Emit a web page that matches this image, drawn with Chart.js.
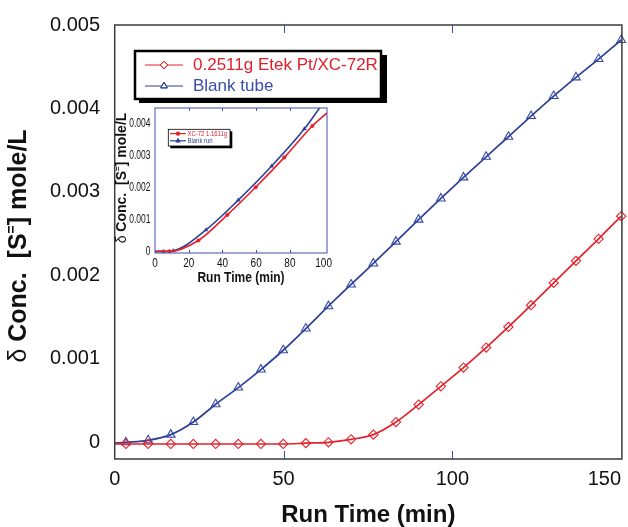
<!DOCTYPE html>
<html>
<head>
<meta charset="utf-8">
<script src="https://cdn.jsdelivr.net/npm/chart.js@4.4.1/dist/chart.umd.min.js"></script>
<style>
    html, body { margin: 0; padding: 0; background: #fff; }
    #wrap { position: relative; width: 628px; height: 527px; }
    #mainChart { position: absolute; left: 0; top: 0; }
    #insetChart { position: absolute; left: 110px; top: 100px; }
</style>
</head>
<body>
<div id="wrap">
    <canvas id="mainChart" width="628" height="527"></canvas>
    <canvas id="insetChart" width="235" height="195"></canvas>
</div>
<script>
// ---- main chart data ----
const runTime = [0, 3.3, 9.9, 16.6, 23.3, 29.9, 36.6, 43.3, 49.9, 56.6, 63.3, 70.0, 76.6,
    83.3, 90.0, 96.6, 103.3, 110.0, 116.6, 123.3, 130.0, 136.6, 143.3, 150.0];
const etekConc = [-0.00002, -0.00002, -0.00002, -0.00002, -0.00002, -0.00002, -0.00002, -0.00002, -0.00002,
    -0.00001, 0, 0.000036, 0.000092, 0.000243, 0.000452, 0.000671, 0.000896, 0.001135,
    0.001382, 0.001643, 0.00191, 0.002174, 0.002438, 0.00271];
const blankConc = [-0.00001, 0, 0.000024, 0.000092, 0.000243, 0.000456, 0.000656, 0.000872, 0.001103,
    0.001363, 0.001631, 0.001891, 0.002143, 0.002404, 0.002668, 0.002922, 0.003174, 0.003421,
    0.003661, 0.003909, 0.004149, 0.004373, 0.004592, 0.00482];
const seriesNames = ['0.2511g Etek Pt/XC-72R', 'Blank tube'];
const xTicks = [0, 50, 100, 150];
const yTicks = [0, 0.001, 0.002, 0.003, 0.004, 0.005];
const yTickLabels = ['0', '0.001', '0.002', '0.003', '0.004', '0.005'];

// ---- inset chart data ----
const insetRedTime = [0, 8.5, 25.7, 42.9, 59.7, 76.7, 93.3, 102];
const insetRedConc = [0, 0, 0.00034, 0.00114, 0.002, 0.00293, 0.00391, 0.00432];
const insetBlueTime = [0, 5, 10.9, 30.2, 49.4, 69.2, 88.6, 98];
const insetBlueConc = [0, 0, 0.00002, 0.00067, 0.0016, 0.00266, 0.00382, 0.0045];
const insetNames = ['XC-72 1.1611g', 'Blank run'];
const insetXTicks = [0, 20, 40, 60, 80, 100];
const insetYTicks = [0, 0.001, 0.002, 0.003, 0.004];
const insetYTickLabels = ['0', '0.001', '0.002', '0.003', '0.004'];

const RED = '#e3222b';
const BLUE = '#2e3f96';
const FONT = '"Liberation Sans", Arial, sans-serif';

function toPoints(xs, ys) {
    return xs.map((x, i) => ({ x: x, y: ys[i] }));
}

// text with optional stretch
function drawText(ctx, str, x, y, font, color, align, sx, sy) {
    ctx.save();
    ctx.translate(x, y);
    ctx.scale(sx || 1, sy || 1);
    ctx.font = font;
    ctx.fillStyle = color;
    ctx.textAlign = align || 'center';
    ctx.textBaseline = 'middle';
    ctx.fillText(str, 0, 0);
    ctx.restore();
}

// rotated "δ Conc. [S=] mole/L" with superscript
function drawConcTitle(ctx, cx, cy, size) {
    const segs = [
        { t: 'δ ', f: size + 'px ' + FONT, dy: 0 },
        { t: 'Conc.  [S', f: 'bold ' + size + 'px ' + FONT, dy: 0 },
        { t: '=', f: 'bold ' + Math.round(size * 0.55) + 'px ' + FONT, dy: -size * 0.28 },
        { t: '] mole/L', f: 'bold ' + size + 'px ' + FONT, dy: 0 }
    ];
    ctx.save();
    ctx.translate(cx, cy);
    ctx.rotate(-Math.PI / 2);
    ctx.textBaseline = 'middle';
    ctx.textAlign = 'left';
    ctx.fillStyle = '#111';
    let total = 0;
    segs.forEach(s => { ctx.font = s.f; s.w = ctx.measureText(s.t).width; total += s.w; });
    let xx = -total / 2;
    segs.forEach(s => { ctx.font = s.f; ctx.fillText(s.t, xx, s.dy); xx += s.w; });
    ctx.restore();
}

const mainDecor = {
    id: 'mainDecor',
    afterDraw(chart) {
        const { ctx, chartArea: a, scales: { x, y } } = chart;
        ctx.save();
        // frame
        ctx.strokeStyle = '#3d3d3d';
        ctx.lineWidth = 1.5;
        ctx.strokeRect(a.left, a.top, a.right - a.left, a.bottom - a.top);
        // inward ticks
        ctx.strokeStyle = '#3a4ea3';
        ctx.lineWidth = 1;
        [50, 100].forEach(v => {
            const px = Math.round(x.getPixelForValue(v)) + 0.5;
            ctx.beginPath();
            ctx.moveTo(px, a.bottom); ctx.lineTo(px, a.bottom - 8);
            ctx.moveTo(px, a.top); ctx.lineTo(px, a.top + 8);
            ctx.stroke();
        });
        ctx.restore();

        // tick labels
        const tickFont = '20px ' + FONT;
        ctx.font = tickFont;
        xTicks.forEach(v => {
            const w = ctx.measureText(String(v)).width;
            const px = Math.min(x.getPixelForValue(v), 621 - w / 2);
            drawText(ctx, String(v), px, 479, tickFont, '#111', 'center');
        });
        yTicks.forEach((v, i) => {
            drawText(ctx, yTickLabels[i], 100, y.getPixelForValue(v), tickFont, '#111', 'right');
        });

        // axis titles
        drawText(ctx, 'Run Time (min)', (a.left + a.right) / 2, 515, 'bold 24px ' + FONT, '#111', 'center');
        drawConcTitle(ctx, 19, 246, 25);

        // legend
        ctx.save();
        ctx.fillStyle = '#000';
        ctx.fillRect(139, 55, 248, 48);
        ctx.fillStyle = '#fff';
        ctx.fillRect(135, 51, 246, 48);
        ctx.strokeStyle = '#000';
        ctx.lineWidth = 2.5;
        ctx.strokeRect(135, 51, 246, 48);
        const rows = [
            { name: seriesNames[0], color: RED, style: 'rectRot', yy: 65, text: '#e0202c' },
            { name: seriesNames[1], color: BLUE, style: 'triangle', yy: 86, text: '#3b4ea8' }
        ];
        rows.forEach(r => {
            ctx.strokeStyle = r.color;
            ctx.lineWidth = 1;
            ctx.beginPath();
            ctx.moveTo(145, r.yy); ctx.lineTo(183, r.yy);
            ctx.stroke();
            ctx.fillStyle = '#fff';
            Chart.helpers.drawPoint(ctx, { pointStyle: r.style, radius: 3.8, borderWidth: 1 }, 164, r.yy);
            ctx.stroke();
            drawText(ctx, r.name, 193, r.yy, '17px ' + FONT, r.text, 'left');
        });
        ctx.restore();
    }
};

new Chart(document.getElementById('mainChart'), {
    type: 'line',
    data: {
        datasets: [{
            label: seriesNames[0],
            data: toPoints(runTime, etekConc),
            borderColor: RED,
            borderWidth: 1.7,
            pointStyle: 'rectRot',
            pointRadius: c => c.dataIndex === 0 ? 0 : 4.6,
            pointBorderColor: RED,
            pointBackgroundColor: 'rgba(0,0,0,0)',
            pointBorderWidth: 1.1,
            cubicInterpolationMode: 'monotone',
            clip: false
        }, {
            label: seriesNames[1],
            data: toPoints(runTime, blankConc),
            borderColor: BLUE,
            borderWidth: 1.7,
            pointStyle: 'triangle',
            pointRadius: c => c.dataIndex === 0 ? 0 : 5,
            pointBorderColor: '#3448a8',
            pointBackgroundColor: 'rgba(0,0,0,0)',
            pointBorderWidth: 1.1,
            cubicInterpolationMode: 'monotone',
            clip: false
        }]
    },
    options: {
        responsive: false,
        animation: false,
        events: [],
        plugins: { legend: { display: false }, tooltip: { enabled: false } },
        layout: { padding: { left: 0, right: 4.5, top: 25, bottom: 0 } },
        scales: {
            x: {
                type: 'linear', min: 0, max: 150.2,
                ticks: { display: false }, grid: { display: false }, border: { display: false },
                afterFit(s) { s.height = 68; s.paddingLeft = 0; s.paddingRight = 0; }
            },
            y: {
                type: 'linear', min: -0.0002, max: 0.005,
                ticks: { display: false }, grid: { display: false }, border: { display: false },
                afterFit(s) { s.width = 114.7; s.paddingTop = 0; s.paddingBottom = 0; }
            }
        }
    },
    plugins: [mainDecor]
});

// ---- inset ----
const insetDecor = {
    id: 'insetDecor',
    afterDraw(chart) {
        const { ctx, chartArea: a, scales: { x, y } } = chart;
        ctx.save();
        ctx.strokeStyle = '#4152a8';
        ctx.lineWidth = 1;
        ctx.strokeRect(a.left, a.top, a.right - a.left, a.bottom - a.top);
        [20, 40, 60, 80].forEach(v => {
            const px = Math.round(x.getPixelForValue(v)) + 0.5;
            ctx.beginPath();
            ctx.moveTo(px, a.bottom); ctx.lineTo(px, a.bottom - 3);
            ctx.moveTo(px, a.top); ctx.lineTo(px, a.top + 3);
            ctx.stroke();
        });
        ctx.restore();

        const f = '10px ' + FONT;
        insetXTicks.forEach(v => {
            drawText(ctx, String(v), x.getPixelForValue(v), 163.5, f, '#111', 'center', 1, 1.25);
        });
        insetYTicks.forEach((v, i) => {
            drawText(ctx, insetYTickLabels[i], 40.5, y.getPixelForValue(v), f, '#111', 'right', 0.85, 1.25);
        });
        drawText(ctx, 'Run Time (min)', (a.left + a.right) / 2, 178, 'bold 12px ' + FONT, '#111', 'center', 1, 1.15);
        drawConcTitle(ctx, 11.7, 78, 14);

        // inset legend
        ctx.save();
        ctx.fillStyle = '#000';
        ctx.fillRect(60.3, 31.3, 62, 17);
        ctx.fillStyle = '#fff';
        ctx.fillRect(58.3, 29.3, 61.7, 16.7);
        ctx.strokeStyle = '#000';
        ctx.lineWidth = 0.8;
        ctx.strokeRect(58.3, 29.3, 61.7, 16.7);
        const rows = [
            { name: insetNames[0], color: RED, style: 'circle', yy: 33.6, r: 1.6 },
            { name: insetNames[1], color: BLUE, style: 'triangle', yy: 40.8, r: 2 }
        ];
        rows.forEach(r => {
            ctx.strokeStyle = r.color;
            ctx.lineWidth = 1.2;
            ctx.beginPath();
            ctx.moveTo(60, r.yy); ctx.lineTo(76, r.yy);
            ctx.stroke();
            ctx.fillStyle = r.color;
            Chart.helpers.drawPoint(ctx, { pointStyle: r.style, radius: r.r, borderWidth: 1 }, 68, r.yy);
            drawText(ctx, r.name, 77.5, r.yy, '7px ' + FONT, r.color, 'left', 0.85, 1.1);
        });
        ctx.restore();
    }
};

const insetMarker = (n, r) => (c => (c.dataIndex === 0 || c.dataIndex === n - 1) ? 0 : r);

new Chart(document.getElementById('insetChart'), {
    type: 'line',
    data: {
        datasets: [{
            label: insetNames[0],
            data: toPoints(insetRedTime, insetRedConc),
            borderColor: RED,
            borderWidth: 1.6,
            pointStyle: 'circle',
            pointRadius: insetMarker(insetRedTime.length, 1.8),
            pointBackgroundColor: RED,
            pointBorderColor: RED,
            pointBorderWidth: 0.5,
            cubicInterpolationMode: 'monotone'
        }, {
            label: insetNames[1],
            data: toPoints(insetBlueTime, insetBlueConc),
            borderColor: BLUE,
            borderWidth: 1.6,
            pointStyle: 'triangle',
            pointRadius: insetMarker(insetBlueTime.length, 2.2),
            pointBackgroundColor: BLUE,
            pointBorderColor: BLUE,
            pointBorderWidth: 0.5,
            cubicInterpolationMode: 'monotone'
        }]
    },
    options: {
        responsive: false,
        animation: false,
        events: [],
        plugins: { legend: { display: false }, tooltip: { enabled: false } },
        layout: { padding: { left: 0, right: 18, top: 8, bottom: 0 } },
        scales: {
            x: {
                type: 'linear', min: 0, max: 102,
                ticks: { display: false }, grid: { display: false }, border: { display: false },
                afterFit(s) { s.height = 42; s.paddingLeft = 0; s.paddingRight = 0; }
            },
            y: {
                type: 'linear', min: -0.00005, max: 0.00447,
                ticks: { display: false }, grid: { display: false }, border: { display: false },
                afterFit(s) { s.width = 45; s.paddingTop = 0; s.paddingBottom = 0; }
            }
        }
    },
    plugins: [insetDecor]
});
</script>
</body>
</html>
